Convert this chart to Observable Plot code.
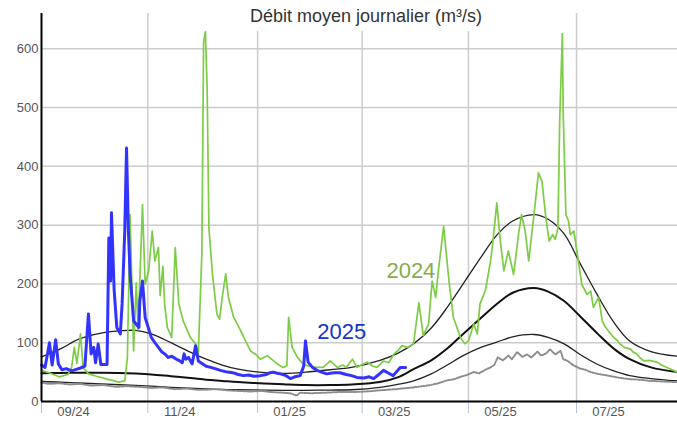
<!DOCTYPE html>
<html><head><meta charset="utf-8">
<script src="https://cdn.jsdelivr.net/npm/d3@7"></script>
<script src="https://cdn.jsdelivr.net/npm/@observablehq/plot@0.6"></script>
<style>
body{margin:0;background:#fff;}
#wrap{position:relative;width:677px;height:424px;font-family:"Liberation Sans",Arial,sans-serif;}
#wrap svg{position:absolute;left:0;top:0;}
#title{position:absolute;left:238px;top:1px;width:256px;height:30px;background:#fff;color:#333;font-size:18px;text-align:center;line-height:31px;z-index:2;}
</style></head><body>
<div id="wrap"><div id="title">Débit moyen journalier (m³/s)</div></div>
<script>
// Days counted from 14/08/2024
const startDate = new Date(Date.UTC(2024, 7, 14));
const endDay = 359;

// Statistical envelope curves (upper, median, lower)
const curveDays = [0,11,21,33,44,53,62,73,84,93,102,111,126,138,149,163,175,191,201,210,220,229,238,248,257,266,278,286,295,304,314,323,332,344,359];
const upperVals = [76,90,106,116,120,121,115,100,84,72,62,55,49,48,50,54,58,70,82,98,125,160,200,245,283,307,318,310,285,235,180,135,103,85,77];
const medianVals = [48,48.5,49,49,48.5,47.5,46,43,40,37,35,33,30.5,29,28,28,29,33,41,55,70,90,115,142,166,185,193,187,171,145,115,90,72,58,50];
const lowerVals = [34,33,31.5,30,28.5,27.5,26,24,22.5,21.5,20.5,20,19.5,19,19,19.5,20,24,29,35,47,62,78,92,101,110,114,109,98,80,63,52,44,39,35];

// Minimum year (grey dotted)
const minDays = [0,4,10,16,22,28,35,42,48,55,62,68,75,82,88,92.5,98,105,111,118,124,130,136,140.5,144,146,152,160,167,175,183,191,200,210,215,219.5,224,229,233,236.5,240,244,247,250.5,253.5,255.5,257.5,260.5,263.5,265.5,268.5,271.5,274,276.5,280,282,285,287,290,293,294.5,297,300,304,307,310,314,318,323,327,332,338,344,351,359];
const minVals = [32,30,31,29,30,27,28,25,26,25,23,24,21,22,20,20,21,19,18,17,18,16,15,14,10,15,14,15,16,16,17,19,21,24,26,28,31,36,38,42,45,50,48,54,58,62,75,70,78,72,84,76,80,75,85,78,82,89,80,86,72,69,62,56,54,50,47,45,42,40,38,37,35,34,33];

// Year 2024
const days2024 = [0,5,10,15,17,18.5,20,22,23.5,26.5,31,36,40,43.5,47,48.5,50,52,53.5,54.5,57,58.5,60.5,62.5,64,66,67,68.5,69.5,71,73.5,75.5,77.5,80,84,87,88.5,90.5,91.5,92.5,93.5,94.5,96.5,99,100.5,102,104,105.5,108.5,112.5,115,118,121,123.5,127.5,131,134,136.5,138.5,139.5,141.5,144.5,147,150,153,155.5,159,163,167,170,172,175.5,178,181,184,187,189.5,193,196,199,201,203.5,206.5,210,213,215.5,218.5,220.5,222.5,224,227,230,232.5,236.5,239,241,244,246,247.5,250.5,253.5,255,257,259,261,263.5,266.5,269.5,271,273,275,278,280.5,282.5,284.5,286.5,288.5,290,291.5,292.5,294,294.5,296,297.5,298.5,300.5,302.5,305,308,310,311.5,314.5,316.5,318,320,323,325,326.5,329,332.5,334,336,338,340,343,347.5,350,353,356,358.5];
const vals2024 = [53,48,42,46,58,92,65,115,58,47,43,39,36,33,35,75,318,86,202,122,335,200,222,290,239,262,180,230,166,126,109,262,166,137,109,98,81,250,612,629,533,295,217,149,140,177,217,177,143,120,104,86,80,72,78,69,62,58,61,143,92,75,66,61,59,58,58,69,58,62,58,72,58,63,67,60,58,69,66,81,86,95,92,98,168,112,132,205,177,222,298,205,143,109,98,103,132,115,166,188,239,278,338,273,222,256,216,290,318,290,239,318,389,375,318,273,284,276,295,476,626,488,318,307,284,290,250,199,182,188,160,177,137,128,120,109,104,98,92,89,84,81,74,69,70,67,62,58,54,50];

// Year 2025
const days2025 = [0,2,4.5,6,8,9.5,11.5,14,17,20,22,24.5,26.5,28,29.5,30.5,32,33.5,37,38,39,39.5,41,42.5,44.5,45.5,47,48,49,50,52,55,55.5,57,58.5,62,64,66,68,70,71.5,73.5,75.5,77.5,79.5,80.5,81.5,83,85,87,88.5,91,93,95.5,98,101,105,108,111,114,117,120,123.5,127,129,131,133,135,138,140.5,143,146,148,149,150.5,153,155.5,158,161,165,168.5,172,175,178,182,185,187.5,190,193,196,198.5,202.5,205.5];
const vals2025 = [62,58,100,62,105,64,54,56,52,55,57,60,149,81,92,66,98,63,63,278,205,321,190,126,115,166,290,431,295,217,137,126,171,205,143,109,100,92,84,80,75,77,73,70,66,81,72,75,64,95,69,64,60,58,56,53,50,49,46,44,45,43,44,46,49,50,48,47,44,39,42,44,60,103,67,58,53,50,47,49,49,46,44,41,40,42,39,45,53,48,44,58,58];

const gridDays = [0,60,122,181,241,302];
const tickLabels = ["09/24","11/24","01/25","03/25","05/25","07/25"];
const yTicks = [0,100,200,300,400,500,600];

const seriesLabels = [
  {day: 169.5, value: 118, text: "2025", color: "#1533cc"},
  {day: 208.5, value: 222, text: "2024", color: "#8aab4a"}
];

const toDate = d => new Date(startDate.getTime() + d * 864e5);
const mk = (days, vals) => days.map((d, i) => ({date: toDate(d), value: vals[i]}));
const gridDates = gridDays.map(toDate);
const labelMap = new Map(gridDates.map((d, i) => [+d, tickLabels[i]]));

const chart = Plot.plot({
  width: 677, height: 424,
  marginLeft: 41, marginRight: 0, marginTop: 13, marginBottom: 23,
  style: {fontFamily: "Liberation Sans, Arial, sans-serif", background: "#fff", overflow: "visible"},
  x: {type: "utc", domain: [toDate(0), toDate(endDay)]},
  y: {domain: [0, 660]},
  marks: [
    Plot.ruleY(yTicks.slice(1), {stroke: "#cccccc", strokeWidth: 1.5}),
    Plot.ruleX(gridDates.slice(1), {stroke: "#cccccc", strokeWidth: 1.5}),
    Plot.axisY(yTicks, {tickSize: 0, tickPadding: 3, fontSize: 13, color: "#555", label: null}),
    Plot.axisX(gridDates, {tickSize: 12, stroke: "#b5c4dd", tickFormat: () => "", label: null}),
    Plot.axisX(gridDates, {tickSize: 0, tickPadding: 5, dx: 32, fontSize: 13, color: "#555", tickFormat: d => labelMap.get(+d), label: null}),
    Plot.line(mk(curveDays, lowerVals), {x: "date", y: "value", stroke: "#222", strokeWidth: 1.3, curve: "catmull-rom"}),
    Plot.line(mk(curveDays, medianVals), {x: "date", y: "value", stroke: "#111", strokeWidth: 2, curve: "catmull-rom"}),
    Plot.line(mk(curveDays, upperVals), {x: "date", y: "value", stroke: "#222", strokeWidth: 1.3, curve: "catmull-rom"}),
    Plot.line(mk(minDays, minVals), {x: "date", y: "value", stroke: "#8c8c8c", strokeWidth: 2, strokeDasharray: "1,1.6"}),
    Plot.line(mk(days2024, vals2024), {x: "date", y: "value", stroke: "#7dcc45", strokeWidth: 1.7}),
    Plot.line(mk(days2025, vals2025), {x: "date", y: "value", stroke: "#3333ff", strokeWidth: 3}),
    Plot.ruleY([0], {stroke: "#000", strokeWidth: 2}),
    Plot.ruleX([toDate(0)], {stroke: "#000", strokeWidth: 2}),
    Plot.text(seriesLabels, {x: d => toDate(d.day), y: "value", text: "text", fill: "color", fontSize: 22})
  ]
});
document.getElementById("wrap").appendChild(chart);
</script>
</body></html>
